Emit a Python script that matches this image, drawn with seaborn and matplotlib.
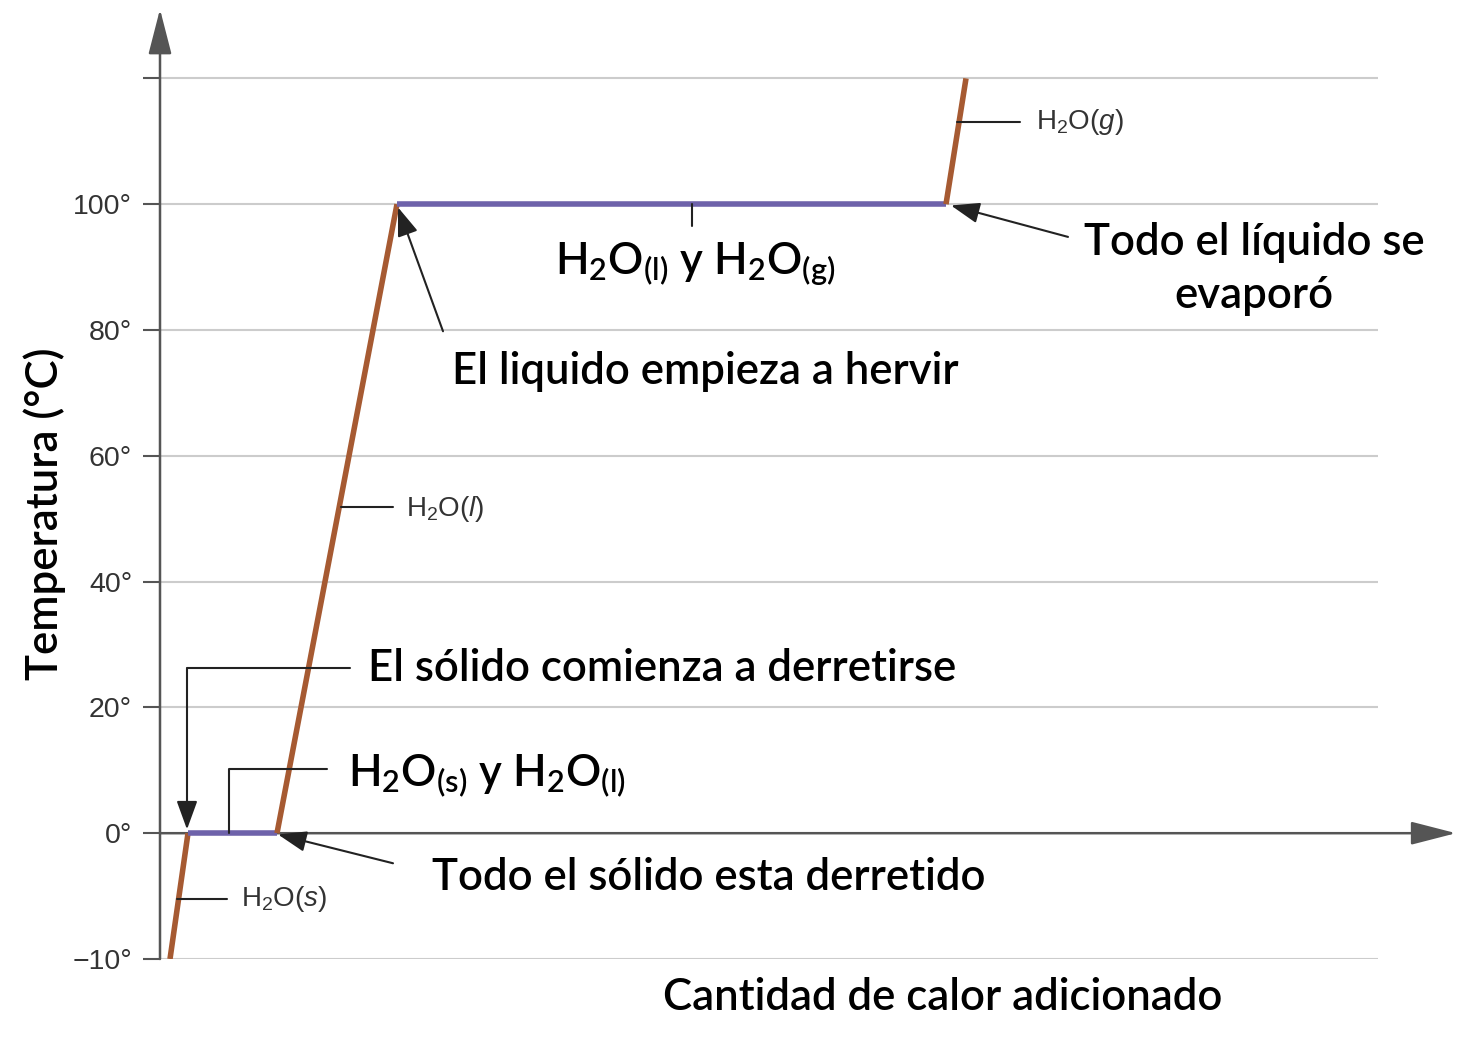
import numpy as np
import pandas as pd
import matplotlib
matplotlib.use("Agg")
import matplotlib.pyplot as plt
import seaborn as sns

# ---------------- data ----------------
heat = [1.0, 2.8, 11.7, 23.7, 78.6, 80.6]          # cantidad de calor (arb.)
temp = [-10, 0, 0, 100, 100, 120]                  # temperatura (°C)
segment_kind = ["slope", "flat", "slope", "flat", "slope"]
ytick_vals = [-10, 0, 20, 40, 60, 80, 100, 120]
ytick_labels = ["\u221210°", "0°", "20°", "40°", "60°", "80°", "100°", ""]

BROWN = "#A65A32"
PURPLE = "#6E62AA"
AXC = "#555555"
GRID = "#cccccc"

sns.set_theme(style="white")
plt.rcParams["font.family"] = ["Lato", "DejaVu Sans"]
plt.rcParams["mathtext.fontset"] = "custom"
plt.rcParams["mathtext.it"] = "Liberation Sans:italic"
plt.rcParams["mathtext.rm"] = "Liberation Sans"

fig = plt.figure(figsize=(14.78, 10.53), dpi=100)
ax = fig.add_axes([160 / 1478, 94 / 1053, 1300 / 1478, 943.5 / 1053])

def fwd(y):
    y = np.asarray(y, dtype=float)
    return np.where(y < 0, 2 * y, y)

def inv(y):
    y = np.asarray(y, dtype=float)
    return np.where(y < 0, y / 2, y)

ax.set_yscale("function", functions=(fwd, inv))
ax.set_xlim(0, 130)
ax.set_ylim(-10, 130)

# grid lines
for v in ytick_vals:
    if v != 0:
        ax.hlines(v, 0, 121.8, color=GRID, lw=1.5, zorder=0)

# segments
for i, kind in enumerate(segment_kind):
    seg = pd.DataFrame({"q": heat[i:i + 2], "t": temp[i:i + 2]})
    sns.lineplot(data=seg, x="q", y="t", sort=False, ax=ax,
                 color=BROWN if kind == "slope" else PURPLE,
                 lw=4.0, zorder=3, solid_capstyle="butt")

# axes arrows
axarr = dict(arrowstyle="-|>,head_length=1.4,head_width=0.36",
             color=AXC, lw=1.8, shrinkA=0, shrinkB=0, mutation_scale=20)
ax.annotate("", xy=(129.6, 0), xytext=(0, 0), arrowprops=axarr,
            annotation_clip=False, zorder=2)
ax.annotate("", xy=(0, 131), xytext=(0, -10), arrowprops=axarr,
            annotation_clip=False, zorder=2)

for s in ax.spines.values():
    s.set_visible(False)
ax.set_xticks([])
ax.set_yticks(ytick_vals)
ax.set_yticklabels(ytick_labels, family="Liberation Sans", fontsize=20.5, color="#333333")
ax.tick_params(axis="y", left=True, length=12, width=1.5, color=AXC, pad=8)
ax.set_xlabel("")
ax.set_ylabel("")

BIG = 31.5
W = "semibold"
lk = dict(color="#222222", lw=1.5, zorder=4)
arr = dict(arrowstyle="-|>,head_length=1.1,head_width=0.4", color="#222222",
           lw=1.5, shrinkA=0, shrinkB=0, mutation_scale=16)

# El sólido comienza a derretirse
ax.plot([19.0, 2.7], [26.2, 26.2], **lk)
ax.annotate("", xy=(2.7, 0.6), xytext=(2.7, 26.2), arrowprops=arr, zorder=4)
ax.text(20.8, 26.2, "El sólido comienza a derretirse", fontsize=BIG,
        fontweight=W, va="center", ha="left", color="black")

# H2O(s) y H2O(l)
ax.plot([16.7, 6.9, 6.9], [10.2, 10.2, 0], **lk)
ax.text(18.8, 9.0, r"$\mathregular{H_2O_{(s)}}$ y $\mathregular{H_2O_{(l)}}$",
        fontsize=BIG, fontweight=W, va="center", ha="left", color="black")

# Todo el sólido esta derretido
ax.annotate("", xy=(11.8, -0.1), xytext=(23.3, -2.39), arrowprops=arr, zorder=4)
ax.text(27.2, -3.5, "Todo el sólido esta derretido", fontsize=BIG,
        fontweight=W, va="center", ha="left", color="black")

# small phase labels
small = dict(fontsize=20, va="center", ha="left", color="#333333",
             family="Liberation Sans")
ax.plot([1.7, 6.7], [-5.2, -5.2], **lk)
ax.text(8.1, -5.25, r"$\mathregular{H_2O(}\mathit{s}\mathregular{)}$", **small)
ax.plot([18.1, 23.3], [51.8, 51.8], **lk)
ax.text(24.6, 51.5, r"$\mathregular{H_2O(}\mathit{l}\mathregular{)}$", **small)
ax.plot([79.7, 86.0], [113.0, 113.0], **lk)
ax.text(87.6, 113.0, r"$\mathregular{H_2O(}\mathit{g}\mathregular{)}$", **small)

# El liquido empieza a hervir
ax.annotate("", xy=(23.8, 99.5), xytext=(28.3, 79.8), arrowprops=arr, zorder=4)
ax.text(29.2, 73.4, "El liquido empieza a hervir", fontsize=BIG,
        fontweight=W, va="center", ha="left", color="black")

# H2O(l) y H2O(g)
ax.plot([53.2, 53.2], [100, 96.5], **lk)
ax.text(53.5, 90.6, r"$\mathregular{H_2O_{(l)}}$ y $\mathregular{H_2O_{(g)}}$",
        fontsize=BIG, fontweight=W, va="center", ha="center", color="black")

# Todo el líquido se evaporó
ax.annotate("", xy=(79.1, 99.8), xytext=(90.8, 94.8), arrowprops=arr, zorder=4)
ax.text(109.4, 89.7, "Todo el líquido se\nevaporó", fontsize=BIG,
        fontweight=W, va="center", ha="center", multialignment="center",
        color="black", linespacing=1.38)

# axis titles
fig.text(45 / 1478, 1 - 514 / 1053, "Temperatura (°C)", rotation=90,
         fontsize=BIG, fontweight=W, va="center", ha="center", color="black")
fig.text(943 / 1478, 1 - 998 / 1053, "Cantidad de calor adicionado",
         fontsize=BIG, fontweight=W, va="center", ha="center", color="black")

fig.savefig("out.png", dpi=100, facecolor="white")
